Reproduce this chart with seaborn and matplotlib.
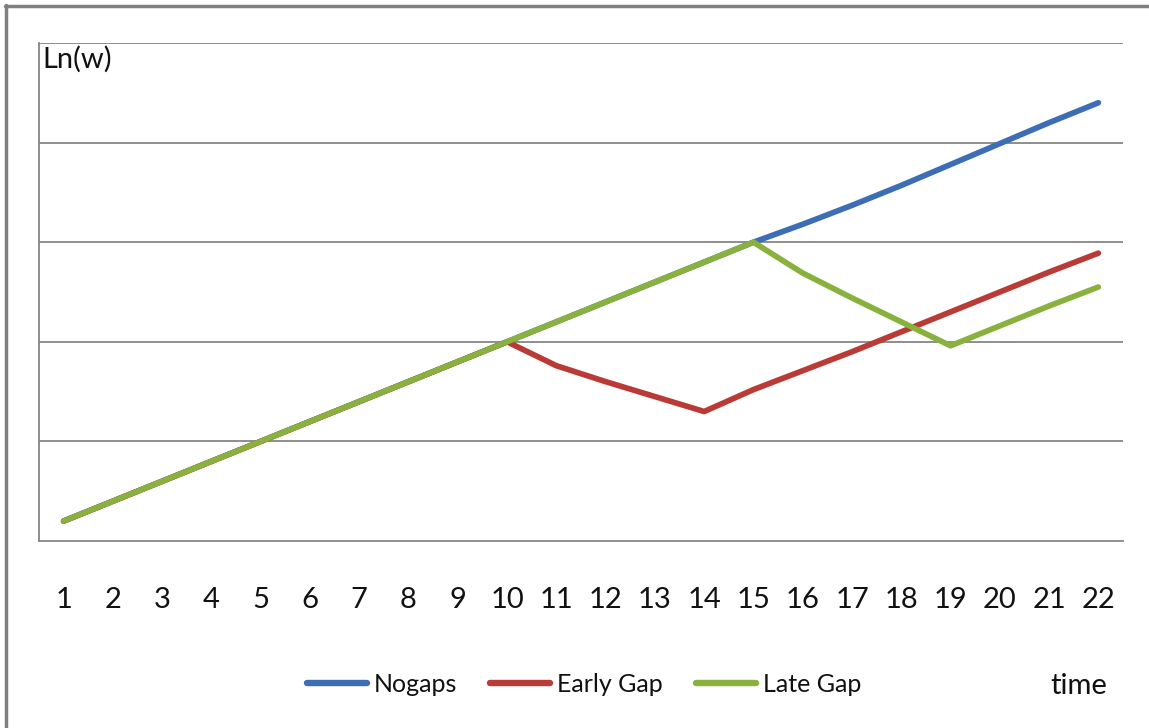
import matplotlib
matplotlib.use("Agg")
import matplotlib.pyplot as plt
from matplotlib import font_manager
from matplotlib.lines import Line2D
import numpy as np
import pandas as pd
import seaborn as sns

# ---- data -------------------------------------------------------------
time = list(range(1, 23))
nogaps = [0.2, 0.4, 0.6, 0.8, 1.0, 1.2, 1.4, 1.6, 1.8, 2.0, 2.2,
          2.4, 2.6, 2.8, 3.0, 3.18, 3.37, 3.57, 3.78, 3.99, 4.2, 4.4]
early_gap = [0.2, 0.4, 0.6, 0.8, 1.0, 1.2, 1.4, 1.6, 1.8, 2.0, 1.76,
             1.6, 1.45, 1.3, 1.52, 1.71, 1.9, 2.1, 2.3, 2.5, 2.7, 2.89]
late_gap = [0.2, 0.4, 0.6, 0.8, 1.0, 1.2, 1.4, 1.6, 1.8, 2.0, 2.2,
            2.4, 2.6, 2.8, 3.0, 2.69, 2.44, 2.2, 1.96, 2.16, 2.36, 2.55]
series_names = ["Nogaps", "Early Gap", "Late Gap"]
series_colors = ["#3D6DB5", "#BA3A36", "#88B13D"]
y_label = "Ln(w)"
x_label = "time"

df = pd.DataFrame({
    "time": time * 3,
    "value": nogaps + early_gap + late_gap,
    "series": [n for n, s in zip(series_names, [nogaps, early_gap, late_gap]) for _ in s],
})

# ---- fonts ------------------------------------------------------------
sns.set_style("white")
available = {f.name for f in font_manager.fontManager.ttflist}
main_font = "Lato" if "Lato" in available else "DejaVu Sans"
plt.rcParams["font.family"] = [main_font, "DejaVu Sans"]

W, H = 1149, 728
fig = plt.figure(figsize=(W / 100, H / 100), dpi=100)
fig.patch.set_facecolor("white")

# plot area in pixel coordinates
left_px, right_px, top_px, bottom_px = 39, 1123, 43, 541
ax = fig.add_axes([left_px / W, 1 - bottom_px / H,
                   (right_px - left_px) / W, (bottom_px - top_px) / H])

sns.lineplot(data=df, x="time", y="value", hue="series",
             hue_order=series_names, palette=series_colors,
             linewidth=4.1, ax=ax, legend=False, sort=False)
for line in ax.get_lines():
    line.set_solid_capstyle("round")
    line.set_solid_joinstyle("round")

ax.set_xlim(0.5, 22.5)
ax.set_ylim(0, 5)

grid_color = "#868686"
ax.set_yticks([1, 2, 3, 4, 5])
ax.set_yticklabels([])
ax.tick_params(axis="y", length=0)
ax.yaxis.grid(True, color=grid_color, linewidth=1.3)
ax.set_axisbelow(True)

# category labels centred, tick marks on category boundaries
ax.set_xticks(time)
ax.set_xticklabels([str(t) for t in time], fontsize=21, color="#111111")
ax.set_xticks(np.arange(0.5, 23, 1.0), minor=True)
ax.tick_params(axis="x", which="major", length=0, pad=33)
ax.tick_params(axis="x", which="minor", length=8, width=1.3,
               color=grid_color, direction="out")

for side in ["top", "right"]:
    ax.spines[side].set_visible(False)
for side in ["left", "bottom"]:
    ax.spines[side].set_color(grid_color)
    ax.spines[side].set_linewidth(1.3)
ax.set_xlabel("")
ax.set_ylabel("")

# axis titles
fig.text(42 / W, 1 - 46 / H, y_label, fontsize=21,
         ha="left", va="top", color="#111111")
fig.text(1079 / W, 1 - 686 / H, x_label, fontsize=21,
         ha="center", va="center", color="#111111")

# legend
handles = [Line2D([0], [0], color=c, linewidth=4.6, solid_capstyle="round")
           for c in series_colors]
fig.legend(handles, series_names, loc="center", bbox_to_anchor=(584 / W, 1 - 684 / H),
           ncol=3, frameon=False, fontsize=18, handlelength=2.4,
           handletextpad=0.3, columnspacing=1.3, labelcolor="#111111")

# chart frame
border = "#7f7f7f"
fig.add_artist(Line2D([6 / W, 6 / W], [0, 1 - 5 / H], color=border, linewidth=2.5,
                      transform=fig.transFigure))
fig.add_artist(Line2D([5 / W, 1], [1 - 6 / H, 1 - 6 / H], color=border, linewidth=2.5,
                      transform=fig.transFigure))

fig.savefig("out.png", dpi=100, facecolor="white")
